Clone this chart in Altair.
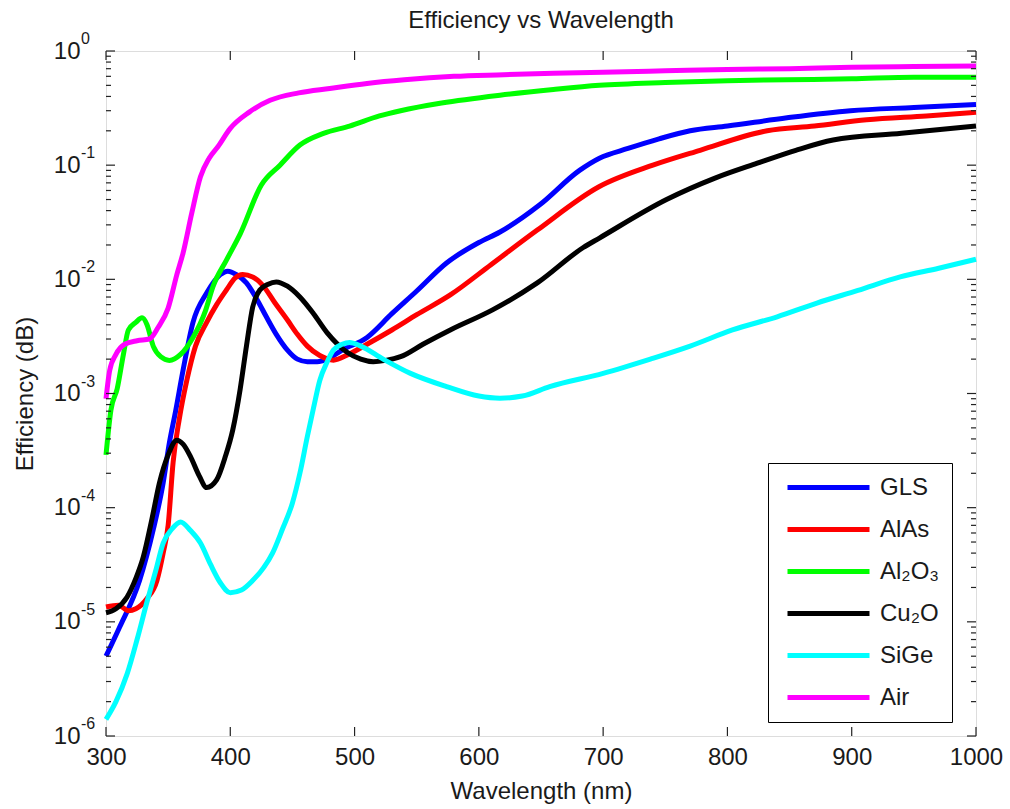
import altair as alt
import pandas as pd

# ---------------- data ----------------
series_names = ["GLS", "AlAs", "Al₂O₃", "Cu₂O", "SiGe", "Air"]
series_colors = ["#0000FF", "#FF0000", "#00FF00", "#000000", "#00FFFF", "#FF00FF"]

gls_wl = [300, 311, 327, 338, 346, 351, 356, 362, 370, 381, 392, 398, 405, 413, 421, 429, 437,
          446, 454, 462, 470, 478, 490, 510, 530, 550, 574, 600, 617, 649, 681, 697, 720, 745,
          770, 800, 848, 899, 950, 1000]
gls_eff = [5e-6, 9e-6, 2.3e-5, 6.4e-5, 1.65e-4, 3.7e-4, 7e-4, 1.6e-3, 4.2e-3, 7.6e-3, 0.011,
           0.0118, 0.011, 9.3e-3, 6.8e-3, 4.7e-3, 3.3e-3, 2.4e-3, 2.0e-3, 1.9e-3, 1.9e-3, 2.0e-3,
           2.4e-3, 3.1e-3, 5.0e-3, 7.9e-3, 0.0139, 0.021, 0.026, 0.045, 0.09, 0.115, 0.14, 0.17,
           0.20, 0.22, 0.26, 0.30, 0.32, 0.34]

alas_wl = [300, 310, 318, 324, 333, 341, 346, 350, 354, 359, 365, 372, 381, 389, 397, 404, 410,
           418, 426, 436, 446, 454, 462, 472, 483, 495, 510, 530, 550, 577, 610, 647, 697, 740,
           778, 832, 870, 912, 960, 1000]
alas_eff = [1.35e-5, 1.4e-5, 1.25e-5, 1.3e-5, 1.6e-5, 2.3e-5, 4e-5, 7e-5, 2.5e-4, 6e-4, 1.3e-3,
            2.6e-3, 4.2e-3, 6e-3, 8.1e-3, 0.0103, 0.011, 0.0105, 8.9e-3, 6.2e-3, 4.4e-3, 3.3e-3,
            2.6e-3, 2.15e-3, 1.96e-3, 2.2e-3, 2.7e-3, 3.6e-3, 4.9e-3, 7.3e-3, 0.0135, 0.027,
            0.065, 0.10, 0.135, 0.20, 0.22, 0.25, 0.27, 0.29]

al2o3_wl = [300, 304, 309, 314, 318, 324, 329, 333, 338, 344, 351, 360, 370, 380, 386, 397, 408,
            425, 440, 456, 475, 496, 520, 537, 570, 617, 660, 697, 750, 800, 848, 900, 950, 1000]
al2o3_eff = [2.9e-4, 7.2e-4, 1.1e-3, 2.2e-3, 3.6e-3, 4.2e-3, 4.6e-3, 4.0e-3, 2.6e-3, 2.1e-3,
             1.95e-3, 2.2e-3, 3.1e-3, 5.3e-3, 8.6e-3, 0.0148, 0.025, 0.067, 0.10, 0.15, 0.19,
             0.22, 0.27, 0.30, 0.35, 0.41, 0.46, 0.50, 0.53, 0.55, 0.56, 0.57, 0.59, 0.59]

cu2o_wl = [300, 308, 317, 324, 330, 337, 343, 350, 357, 362, 368, 375, 381, 389, 396, 402, 408,
           413, 418, 424, 430, 437, 446, 456, 467, 478, 494, 505, 515, 525, 537, 555, 577, 611,
           647, 684, 697, 751, 790, 824, 855, 885, 940, 1000]
cu2o_eff = [1.2e-5, 1.3e-5, 1.65e-5, 2.4e-5, 3.7e-5, 8e-5, 1.65e-4, 2.9e-4, 3.9e-4, 3.6e-4,
            2.8e-4, 1.9e-4, 1.5e-4, 1.75e-4, 2.8e-4, 4.8e-4, 1.1e-3, 2.6e-3, 5.7e-3, 8.1e-3,
            9.0e-3, 9.5e-3, 8.7e-3, 7.0e-3, 5.0e-3, 3.4e-3, 2.3e-3, 2.0e-3, 1.9e-3, 1.95e-3,
            2.1e-3, 2.7e-3, 3.6e-3, 5.4e-3, 9.3e-3, 0.019, 0.023, 0.050, 0.077, 0.104, 0.135,
            0.166, 0.19, 0.22]

sige_wl = [300, 308, 317, 325, 333, 340, 346, 353, 360, 368, 376, 384, 392, 400, 409, 418, 427,
           434, 442, 450, 456, 462, 467, 472, 478, 483, 490, 496, 505, 523, 545, 574, 600, 617,
           635, 657, 700, 738, 770, 804, 840, 872, 905, 939, 970, 1000]
sige_eff = [1.4e-6, 2.0e-6, 3.5e-6, 7e-6, 1.5e-5, 2.8e-5, 4.9e-5, 6.5e-5, 7.5e-5, 6.3e-5, 4.9e-5,
            3.2e-5, 2.2e-5, 1.8e-5, 1.9e-5, 2.3e-5, 3e-5, 4e-5, 6.5e-5, 1.1e-4, 2e-4, 4.2e-4,
            7.5e-4, 1.3e-3, 1.9e-3, 2.4e-3, 2.7e-3, 2.8e-3, 2.6e-3, 2.0e-3, 1.5e-3, 1.15e-3,
            9.5e-4, 9.1e-4, 9.5e-4, 1.15e-3, 1.5e-3, 2.0e-3, 2.6e-3, 3.6e-3, 4.7e-3, 6.2e-3,
            8e-3, 0.0105, 0.0125, 0.015]

air_wl = [300, 303, 308, 315, 325, 335, 342, 350, 357, 362, 369, 376, 383, 390, 400, 415, 432,
          455, 480, 510, 540, 580, 620, 660, 700, 750, 800, 850, 900, 950, 1000]
air_eff = [9e-4, 1.6e-3, 2.2e-3, 2.7e-3, 2.9e-3, 3.0e-3, 3.8e-3, 5.6e-3, 1.1e-2, 1.7e-2, 3.8e-2,
           0.079, 0.115, 0.145, 0.21, 0.29, 0.37, 0.43, 0.47, 0.52, 0.56, 0.60, 0.62, 0.64,
           0.65, 0.67, 0.69, 0.70, 0.72, 0.73, 0.74]

x_tick_values = [300, 400, 500, 600, 700, 800, 900, 1000]
y_major_values = [1e-6, 1e-5, 1e-4, 1e-3, 1e-2, 1e-1, 1.0]
y_exponents = ["-6", "-5", "-4", "-3", "-2", "-1", "0"]
y_minor_values = [k * d for d in [1e-6, 1e-5, 1e-4, 1e-3, 1e-2, 1e-1] for k in range(2, 10)]

# ---------------- build tables ----------------
all_wl = [gls_wl, alas_wl, al2o3_wl, cu2o_wl, sige_wl, air_wl]
all_eff = [gls_eff, alas_eff, al2o3_eff, cu2o_eff, sige_eff, air_eff]
rows = []
for i, (name, wl, eff) in enumerate(zip(series_names, all_wl, all_eff)):
    for w, e in zip(wl, eff):
        rows.append({"series": name, "order": i, "wl": w, "eff": e})
df = pd.DataFrame(rows)

df_major = pd.DataFrame({"eff": y_major_values, "exp": y_exponents})
df_minor = pd.DataFrame({"eff": y_minor_values})
df_xt = pd.DataFrame({"wl": x_tick_values})

W, H = 870, 685
FONT = "Liberation Sans"
TXT = "#1a1a1a"

xscale = alt.Scale(domain=[300, 1000], nice=False, zero=False)
yscale = alt.Scale(type="log", domain=[1e-6, 1], nice=False)

xaxis = alt.Axis(values=x_tick_values, format="d", title="Wavelength (nm)", ticks=False,
                 domain=False, grid=False, labelFontSize=24, labelFont=FONT, labelColor=TXT,
                 labelPadding=9, labelFlush=False, labelOverlap=False,
                 titleFontSize=24, titleFont=FONT, titleFontWeight="normal",
                 titleColor=TXT, titleY=55, titleBaseline="middle")
yaxis = alt.Axis(values=y_major_values, labelExpr="'10'", title="Efficiency (dB)",
                 ticks=False, domain=False, grid=False, labelFontSize=24,
                 labelFont=FONT, labelColor=TXT, labelPadding=26, labelOverlap=False,
                 labelFlush=False, labelBaseline="middle",
                 titleFontSize=24, titleFont=FONT, titleFontWeight="normal",
                 titleColor=TXT, titleX=-81, titleY=H / 2, titleAngle=270,
                 titleBaseline="middle", titleAlign="center")

X = alt.X("wl:Q", scale=xscale, axis=xaxis, title="Wavelength (nm)")
Y = alt.Y("eff:Q", scale=yscale, axis=yaxis, title="Efficiency (dB)")

lines = alt.Chart(df).mark_line(strokeWidth=5, interpolate="monotone", strokeJoin="round").encode(
    x=X,
    y=Y,
    color=alt.Color("series:N", sort=series_names,
                    scale=alt.Scale(domain=series_names, range=series_colors),
                    legend=alt.Legend(title=None, orient="none", legendX=662, legendY=412,
                                      symbolType="M-0.5,0H7.7", symbolSize=400,
                                      symbolStrokeWidth=5, labelFontSize=24, labelFont=FONT,
                                      labelColor=TXT, labelOffset=75, padding=12,
                                      rowPadding=17, strokeColor="#000000",
                                      fillColor="#FFFFFF", labelLimit=200)),
    order=alt.Order("order:Q"),
)

rule_style = dict(color="#222222", strokeWidth=1.2)

yl_major = alt.Chart(df_major).mark_rule(**rule_style).encode(
    y=Y, x=alt.value(0), x2=alt.value(9))
yr_major = alt.Chart(df_major).mark_rule(**rule_style).encode(
    y=Y, x=alt.value(W), x2=alt.value(W - 9))
yl_minor = alt.Chart(df_minor).mark_rule(**rule_style).encode(
    y=Y, x=alt.value(0), x2=alt.value(5))
yr_minor = alt.Chart(df_minor).mark_rule(**rule_style).encode(
    y=Y, x=alt.value(W), x2=alt.value(W - 5))
xb = alt.Chart(df_xt).mark_rule(**rule_style).encode(
    x=X, y=alt.value(H), y2=alt.value(H - 9))
xtop = alt.Chart(df_xt).mark_rule(**rule_style).encode(
    x=X, y=alt.value(0), y2=alt.value(9))

exps = alt.Chart(df_major).mark_text(align="left", baseline="middle", dy=-12, fontSize=16,
                                      font=FONT, color=TXT).encode(
    y=Y, x=alt.value(-25), text="exp:N")

chart = alt.layer(lines, yl_major, yr_major, yl_minor, yr_minor, xb, xtop, exps).properties(
    width=W, height=H,
    title=alt.TitleParams("Efficiency vs Wavelength", fontSize=24, font=FONT,
                          fontWeight="normal", color=TXT, offset=-2, anchor="middle"),
    autosize=alt.AutoSizeParams(type="none"),
    padding={"left": 106, "top": 51, "right": 34, "bottom": 73},
).configure_view(stroke="#222222", strokeWidth=1.5).configure(background="white")

chart.save("out.html", embed_options={"renderer": "svg", "actions": False})
